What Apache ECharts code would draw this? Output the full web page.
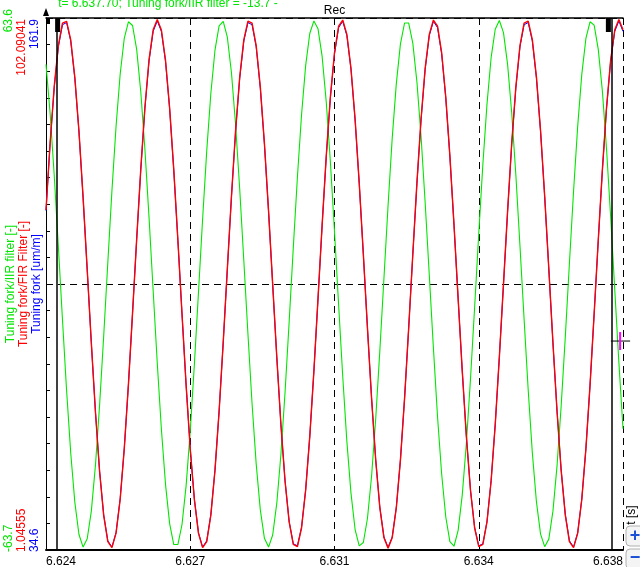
<!DOCTYPE html>
<html>
<head>
<meta charset="utf-8">
<script src="https://cdn.jsdelivr.net/npm/echarts@6/dist/echarts.min.js"></script>
<style>html,body{margin:0;padding:0;background:#fff;}#c{width:640px;height:567px;}</style>
</head>
<body>
<div id="c"></div>
<script>
// x axis: milliseconds after 6.624 s
const tickLabels = ['6.624', '6.627', '6.631', '6.634', '6.638'];
const sampleStepMs = 0.1;
const cursorTimes = [0.27, 13.73];
const cursorText = 't= 6.637.70; Tuning fork/IIR filter = -13.7 -';
const markerTime = 13.93;
const markerValue = -13.7;

const greenName = 'Tuning fork/IIR filter [-]';
const redName = 'Tuning fork/FIR Filter [-]';
const blueName = 'Tuning fork [um/m]';
const greenRange = [-63.7, 63.6];
const redRange = [1.04555, 102.09041];
const blueRange = [34.6, 161.9];
const greenRangeLabels = ['-63.7', '63.6'];
const redRangeLabels = ['1.04555', '102.09041'];
const blueRangeLabels = ['34.6', '161.9'];

const green = [52.5,40.8,25.9,8.9,-8.6,-25.6,-40.5,-52.3,-60.0,-63.0,
-61.0,-54.4,-43.4,-29.1,-12.5,5.1,22.3,37.7,50.2,58.8,
62.7,61.8,56.1,45.9,32.2,15.9,-1.6,-19.0,-34.8,-48.0,
-57.4,-62.4,-62.4,-57.6,-48.3,-35.2,-19.3,-2.0,15.5,31.8,
45.6,55.9,61.7,62.8,59.0,50.5,38.1,22.7,5.5,-12.0,
-28.7,-43.1,-54.1,-60.9,-63.0,-60.1,-52.5,-40.8,-26.0,-9.1,
8.6,25.5,40.4,52.2,59.9,62.9,61.0,54.4,43.5,29.2,
12.5,-5.0,-22.2,-37.7,-50.1,-58.8,-62.7,-61.9,-56.1,-46.0,
-32.3,-16.0,1.4,18.8,34.8,47.9,57.4,62.4,62.4,57.6,
48.3,35.3,19.4,2.1,-15.4,-31.8,-45.5,-55.8,-61.7,-62.8,
-59.0,-50.5,-38.1,-22.7,-5.6,12.0,28.6,43.0,54.1,60.9,
63.0,60.1,52.5,40.9,26.1,9.1,-8.4,-25.4,-40.4,-52.2,
-59.9,-62.9,-61.1,-54.4,-43.5,-29.2,-12.7,4.9,22.1,37.6,
50.1,58.7,62.7,61.9,56.1,46.1,32.3,16.1,-1.4,-18.8,
-34.7];

const red = [65.61,78.41,89.10,96.88,101.10,101.45,97.93,90.81,80.57,68.07,
54.31,40.36,27.25,16.01,7.62,2.65,1.50,4.26,10.69,20.38,
32.47,46.08,60.08,73.44,85.13,94.17,99.84,101.80,99.79,94.07,
84.98,73.34,59.93,45.93,32.32,20.22,10.64,4.21,1.50,2.65,
7.67,16.16,27.35,40.51,54.46,68.22,80.72,90.86,97.98,101.50,
101.10,96.83,89.00,78.26,65.46,51.55,37.64,24.84,14.15,6.37,
2.10,1.70,5.22,12.39,22.58,35.03,48.84,62.79,75.90,87.14,
95.53,100.55,101.70,98.99,92.51,82.87,70.78,57.22,43.17,29.81,
18.12,9.08,3.36,1.40,3.36,9.08,18.17,29.81,43.22,57.22,
70.83,82.92,92.56,98.99,101.70,100.55,95.53,87.09,75.90,62.79,
48.79,35.03,22.58,12.34,5.22,1.70,2.10,6.37,14.15,24.89,
37.69,51.55,65.46,78.31,89.00,96.83,101.10,101.50,97.98,90.86,
80.67,68.22,54.46,40.46,27.35,16.11,7.67,2.65,1.50,4.21,
10.64,20.28,32.32,45.93,59.93,73.34,85.03,94.07,99.84,101.80,
99.84];

const blue = [115.8,131.8,145.3,155.0,160.3,160.8,156.4,147.4,134.6,118.9,
101.6,84.1,67.6,53.5,43.0,36.8,35.3,38.8,46.9,59.0,
74.2,91.3,108.9,125.6,140.3,151.6,158.7,161.2,158.7,151.5,
140.1,125.5,108.7,91.1,74.0,58.8,46.8,38.7,35.3,36.8,
43.1,53.7,67.8,84.3,101.8,119.1,134.7,147.5,156.4,160.8,
160.3,155.0,145.1,131.7,115.6,98.1,80.7,64.6,51.2,41.4,
36.1,35.6,40.0,49.0,61.8,77.4,94.7,112.3,128.7,142.8,
153.3,159.6,161.1,157.7,149.6,137.5,122.3,105.3,87.6,70.9,
56.2,44.8,37.7,35.2,37.7,44.8,56.2,70.9,87.7,105.3,
122.3,137.5,149.6,157.7,161.1,159.6,153.3,142.7,128.7,112.3,
94.7,77.4,61.8,48.9,40.0,35.6,36.1,41.4,51.2,64.7,
80.8,98.1,115.6,131.7,145.1,155.0,160.3,160.8,156.4,147.5,
134.7,119.1,101.8,84.2,67.8,53.7,43.1,36.8,35.3,38.7,
46.8,58.9,74.0,91.1,108.7,125.5,140.2,151.5,158.7,161.2,
158.7];

(function () {
const GREEN = '#00e600', RED = '#ff0000', BLUE = '#0000ff';
const FONT = '"Liberation Sans", Arial, sans-serif';

function pairs(arr) { return arr.map((v, i) => [+(i * sampleStepMs).toFixed(2), v]); }

const chart = echarts.init(document.getElementById('c'), null, { renderer: 'canvas' });

function hiddenY(extra) {
  return Object.assign({
    type: 'value', position: 'left', offset: 0,
    axisLine: { show: false }, axisTick: { show: false },
    axisLabel: { show: false }, splitLine: { show: false }
  }, extra);
}

const option = {
  animation: false,
  backgroundColor: '#fff',
  textStyle: { fontFamily: FONT },
  grid: { left: 46, right: 17, top: 18, bottom: 17, containLabel: false, outerBoundsMode: 'none' },
  xAxis: [
    {
      type: 'value', min: 0, max: 14, interval: 3.5, position: 'bottom',
      axisLine: { show: true, onZero: false, lineStyle: { color: '#000', width: 2 } },
      axisTick: { show: false },
      axisLabel: {
        show: true, color: '#000', fontSize: 12, fontFamily: FONT, margin: 6,
        alignMinLabel: 'left', alignMaxLabel: 'right',
        formatter: v => tickLabels[Math.round(v / 3.5)]
      },
      splitLine: { show: true, lineStyle: { color: '#000', width: 1, type: [7, 5] } }
    },
    {
      type: 'value', min: 0, max: 14, position: 'top',
      axisLine: { show: true, onZero: false, lineStyle: { color: '#000', width: 1.5 } },
      axisTick: { show: false }, axisLabel: { show: false }, splitLine: { show: false }
    }
  ],
  yAxis: [
    hiddenY({
      min: greenRange[0], max: greenRange[1],
      axisLine: { show: true, onZero: false, lineStyle: { color: '#000', width: 1 } },
      name: greenName, nameLocation: 'middle', nameGap: 29.5, nameRotate: 90,
      nameTextStyle: { color: GREEN, fontSize: 12, fontFamily: FONT }
    }),
    hiddenY({
      min: redRange[0], max: redRange[1],
      name: redName, nameLocation: 'middle', nameGap: 16.5, nameRotate: 90,
      nameTextStyle: { color: RED, fontSize: 12, fontFamily: FONT }
    }),
    hiddenY({
      min: blueRange[0], max: blueRange[1],
      name: blueName, nameLocation: 'middle', nameGap: 3.5, nameRotate: 90,
      nameTextStyle: { color: BLUE, fontSize: 12, fontFamily: FONT }
    }),
    hiddenY({
      min: 0, max: 20, interval: 1,
      axisTick: { show: true, inside: true, length: 4, lineStyle: { color: '#000', width: 1 } }
    }),
    hiddenY({
      min: 0, max: 2, interval: 1,
      splitLine: { show: true, lineStyle: { color: '#000', width: 1, type: [7, 5] } }
    })
  ],
  series: [
    {
      name: greenName, type: 'line', xAxisIndex: 0, yAxisIndex: 0,
      data: pairs(green), showSymbol: false, symbol: 'none',
      lineStyle: { color: GREEN, width: 1.1 }, itemStyle: { color: GREEN }, z: 2,
      markLine: {
        silent: true, symbol: 'none', label: { show: false },
        lineStyle: { color: '#000', width: 1.5, type: 'solid' },
        data: cursorTimes.map(t => ({ xAxis: t }))
      }
    },
    {
      name: blueName, type: 'line', xAxisIndex: 0, yAxisIndex: 2,
      data: pairs(blue), showSymbol: false, symbol: 'none',
      lineStyle: { color: BLUE, width: 1.0 }, itemStyle: { color: BLUE }, z: 3
    },
    {
      name: redName, type: 'line', xAxisIndex: 0, yAxisIndex: 1,
      data: pairs(red), showSymbol: false, symbol: 'none',
      lineStyle: { color: RED, width: 1.4 }, itemStyle: { color: RED }, z: 4
    }
  ]
};
chart.setOption(option);

const yTop = chart.convertToPixel({ yAxisIndex: 4 }, 2);
const yBottom = chart.convertToPixel({ yAxisIndex: 4 }, 0);
const xLeft = chart.convertToPixel({ xAxisIndex: 0 }, 0);
const xRight = chart.convertToPixel({ xAxisIndex: 0 }, 14);
const midX = (xLeft + xRight) / 2;
const c0 = chart.convertToPixel({ xAxisIndex: 0 }, cursorTimes[0]);
const c1 = chart.convertToPixel({ xAxisIndex: 0 }, cursorTimes[1]);
const mk = chart.convertToPixel({ xAxisIndex: 0, yAxisIndex: 0 }, [markerTime, markerValue]);

function vText(text, x, y, color, align) {
  return {
    type: 'text', x: x, y: y, rotation: Math.PI / 2, z: 100,
    style: { text: text, fill: color, font: '12px ' + FONT, align: align, verticalAlign: 'middle' }
  };
}

const graphics = [
  vText(greenRangeLabels[0], 9, yBottom + 2, GREEN, 'left'),
  vText(greenRangeLabels[1], 9, yTop - 9, GREEN, 'right'),
  vText(redRangeLabels[0], 22, yBottom + 2, RED, 'left'),
  vText(redRangeLabels[1], 22, yTop + 1, RED, 'right'),
  vText(blueRangeLabels[0], 35, yBottom + 2, BLUE, 'left'),
  vText(blueRangeLabels[1], 35, yTop + 1, BLUE, 'right'),
  { type: 'text', x: c0 + 1, y: 4, z: 100,
    style: { text: cursorText, fill: GREEN, font: '12px ' + FONT, align: 'left', verticalAlign: 'middle' } },
  { type: 'text', x: midX, y: 11, z: 100,
    style: { text: 'Rec', fill: '#000', font: '12px ' + FONT, align: 'center', verticalAlign: 'middle' } },
  { type: 'rect', shape: { x: c0 - 2, y: yTop, width: 5, height: 14 }, style: { fill: '#000' }, z: 100 },
  { type: 'rect', shape: { x: c1 - 6, y: yTop, width: 5, height: 14 }, style: { fill: '#000' }, z: 100 },
  { type: 'polygon', shape: { points: [[xLeft - 3, 16], [xLeft + 3, 16], [xLeft, 8]] }, style: { fill: '#000' }, z: 100 },
  { type: 'rect', shape: { x: xLeft, y: yTop, width: 4, height: 6 }, style: { fill: '#000' }, z: 100 },
  { type: 'line', shape: { x1: c1 - 1, y1: mk[1], x2: mk[0] + 10, y2: mk[1] }, style: { stroke: '#000', lineWidth: 1 }, z: 100 },
  { type: 'line', shape: { x1: mk[0], y1: mk[1] - 9, x2: mk[0], y2: mk[1] + 9 }, style: { stroke: '#ff00ff', lineWidth: 2 }, z: 101 },
  vText('t [s]', 632, 515, '#000', 'center'),
  { type: 'rect', shape: { x: 626, y: 526, width: 20, height: 20, r: 4 }, style: { fill: '#f4f4f4', stroke: '#b0b0b0', lineWidth: 1 }, z: 100 },
  { type: 'text', x: 635, y: 536, z: 101,
    style: { text: '+', fill: '#1a4fd6', font: 'bold 18px ' + FONT, align: 'center', verticalAlign: 'middle' } },
  { type: 'rect', shape: { x: 626, y: 549, width: 20, height: 20, r: 4 }, style: { fill: '#f4f4f4', stroke: '#b0b0b0', lineWidth: 1 }, z: 100 },
  { type: 'text', x: 635, y: 558, z: 101,
    style: { text: '\u2212', fill: '#1a4fd6', font: 'bold 18px ' + FONT, align: 'center', verticalAlign: 'middle' } }
];
chart.setOption({ graphic: graphics });
})();
</script>
</body>
</html>
